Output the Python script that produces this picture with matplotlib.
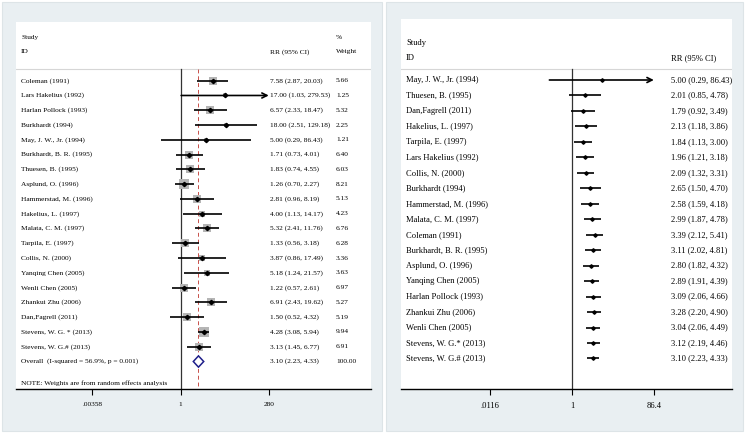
import numpy as np
import matplotlib
matplotlib.use("Agg")
import matplotlib.pyplot as plt
from matplotlib import transforms
from matplotlib.patches import Rectangle, Polygon

# ---------------- data ----------------
left_studies = ["Coleman (1991)", "Lars Hakelius (1992)", "Harlan Pollock (1993)", "Burkhardt (1994)",
                "May, J. W., Jr. (1994)", "Burkhardt, B. R. (1995)", "Thuesen, B. (1995)", "Asplund, O. (1996)",
                "Hammerstad, M. (1996)", "Hakelius, L. (1997)", "Malata, C. M. (1997)", "Tarpila, E. (1997)",
                "Collis, N. (2000)", "Yanqing Chen (2005)", "Wenli Chen (2005)", "Zhankui Zhu (2006)",
                "Dan,Fagrell (2011)", "Stevens, W. G. * (2013)", "Stevens, W. G.# (2013)"]
left_rr = [7.58, 17.00, 6.57, 18.00, 5.00, 1.71, 1.83, 1.26, 2.81, 4.00, 5.32, 1.33, 3.87, 5.18, 1.22, 6.91, 1.50, 4.28, 3.13]
left_lo = [2.87, 1.03, 2.33, 2.51, 0.29, 0.73, 0.74, 0.70, 0.96, 1.13, 2.41, 0.56, 0.86, 1.24, 0.57, 2.43, 0.52, 3.08, 1.45]
left_hi = [20.03, 279.53, 18.47, 129.18, 86.43, 4.01, 4.55, 2.27, 8.19, 14.17, 11.76, 3.18, 17.49, 21.57, 2.61, 19.62, 4.32, 5.94, 6.77]
left_weight = [5.66, 1.25, 5.32, 2.25, 1.21, 6.40, 6.03, 8.21, 5.13, 4.23, 6.76, 6.28, 3.36, 3.63, 6.97, 5.27, 5.19, 9.94, 6.91]
overall_label = "Overall  (I-squared = 56.9%, p = 0.001)"
overall_rr, overall_lo, overall_hi, overall_weight = 3.10, 2.23, 4.33, 100.00
left_ticks = [0.00358, 1, 280]
left_ticklabels = [".00358", "1", "280"]

right_studies = ["May, J. W., Jr. (1994)", "Thuesen, B. (1995)", "Dan,Fagrell (2011)", "Hakelius, L. (1997)",
                 "Tarpila, E. (1997)", "Lars Hakelius (1992)", "Collis, N. (2000)", "Burkhardt (1994)",
                 "Hammerstad, M. (1996)", "Malata, C. M. (1997)", "Coleman (1991)", "Burkhardt, B. R. (1995)",
                 "Asplund, O. (1996)", "Yanqing Chen (2005)", "Harlan Pollock (1993)", "Zhankui Zhu (2006)",
                 "Wenli Chen (2005)", "Stevens, W. G.* (2013)", "Stevens, W. G.# (2013)"]
right_rr = [5.00, 2.01, 1.79, 2.13, 1.84, 1.96, 2.09, 2.65, 2.58, 2.99, 3.39, 3.11, 2.80, 2.89, 3.09, 3.28, 3.04, 3.12, 3.10]
right_lo = [0.29, 0.85, 0.92, 1.18, 1.13, 1.21, 1.32, 1.50, 1.59, 1.87, 2.12, 2.02, 1.82, 1.91, 2.06, 2.20, 2.06, 2.19, 2.23]
right_hi = [86.43, 4.78, 3.49, 3.86, 3.00, 3.18, 3.31, 4.70, 4.18, 4.78, 5.41, 4.81, 4.32, 4.39, 4.66, 4.90, 4.49, 4.46, 4.33]
right_ticks = [0.0116, 1, 86.4]
right_ticklabels = [".0116", "1", "86.4"]

# ---------------- layout ----------------
W, H = 745, 434
fig = plt.figure(figsize=(W / 100, H / 100), dpi=100)
fig.patch.set_facecolor("white")
SERIF = ["Liberation Serif", "DejaVu Serif"]
PANEL = "#e9eff2"

def fig_rect(x0, y0, x1, y1, **kw):
    fig.patches.append(Rectangle((x0 / W, 1 - y1 / H), (x1 - x0) / W, (y1 - y0) / H,
                                 transform=fig.transFigure, figure=fig, **kw))

fig_rect(2, 2, 382, 431, facecolor=PANEL, edgecolor="#dde4e7", lw=0.8, zorder=-5)
fig_rect(386, 2, 743, 431, facecolor=PANEL, edgecolor="#dde4e7", lw=0.8, zorder=-5)


def make_axes(px0, py0, px1, py1, center_px, px_per_ln, row0_px, row_step):
    ax = fig.add_axes([px0 / W, 1 - py1 / H, (px1 - px0) / W, (py1 - py0) / H])
    ax.set_zorder(1)
    ax.set_facecolor("white")
    ax.set_xscale("log")
    ax.set_xlim(np.exp((px0 - center_px) / px_per_ln), np.exp((px1 - center_px) / px_per_ln))
    ax.set_ylim((py1 - row0_px) / row_step, (py0 - row0_px) / row_step)
    for s in ["top", "left", "right"]:
        ax.spines[s].set_visible(False)
    ax.spines["bottom"].set_linewidth(1.0)
    ax.set_yticks([])
    ax.minorticks_off()
    tr = transforms.blended_transform_factory(ax.transAxes, ax.transData)
    fx = lambda px: (px - px0) / (px1 - px0)
    ry = lambda py: (py - row0_px) / row_step
    return ax, tr, fx, ry


def draw_ci(ax, lo, hi, y, xmax_tick, lw=1.2):
    if hi >= 0.995 * xmax_tick:
        ax.annotate("", xy=(xmax_tick * 0.97, y), xytext=(lo, y),
                    arrowprops=dict(arrowstyle="->", lw=lw, color="black",
                                    shrinkA=0, shrinkB=0, mutation_scale=9))
    else:
        ax.plot([lo, hi], [y, y], color="black", lw=lw, solid_capstyle="butt", zorder=3)


# ---------------- left panel ----------------
axL, trL, fxL, ryL = make_axes(16, 22, 371, 389, 180.7, 15.71, 80.7, 14.78)
fsL = 5.3
n = len(left_studies)
ylo, yhi = axL.get_ylim()
hdr = ryL(69)
axL.axhline(hdr, color="#d6d6d6", lw=0.8)
axL.plot([1, 1], [hdr, ylo], color="#333333", lw=0.9, zorder=2)
axL.plot([overall_rr, overall_rr], [hdr, ylo], color="#c8504a", lw=0.7, ls=(0, (4, 3)), zorder=2)

axL.text(fxL(21), ryL(37.7), "Study", transform=trL, fontsize=fsL, family=SERIF, va="center")
axL.text(fxL(21), ryL(51.7), "ID", transform=trL, fontsize=fsL, family=SERIF, va="center")
axL.text(fxL(270), ryL(51.7), "RR (95% CI)", transform=trL, fontsize=fsL, family=SERIF, va="center")
axL.text(fxL(336), ryL(37.7), "%", transform=trL, fontsize=fsL, family=SERIF, va="center")
axL.text(fxL(336), ryL(51.7), "Weight", transform=trL, fontsize=fsL, family=SERIF, va="center")

for i in range(n):
    side_pt = 3.3 * np.sqrt(left_weight[i]) * 0.72
    axL.scatter([left_rr[i]], [i], marker="s", s=side_pt ** 2, color="#b5b5b5", lw=0, zorder=2)
    draw_ci(axL, left_lo[i], left_hi[i], i, left_ticks[-1])
    axL.plot([left_rr[i]], [i], marker="D", ms=2.2, color="black", zorder=4)
    axL.text(fxL(21), i, left_studies[i], transform=trL, fontsize=fsL, family=SERIF, va="center")
    axL.text(fxL(270), i, f"{left_rr[i]:.2f} ({left_lo[i]:.2f}, {left_hi[i]:.2f})", transform=trL,
             fontsize=fsL, family=SERIF, va="center")
    axL.text(fxL(336), i, f"{left_weight[i]:.2f}", transform=trL, fontsize=fsL, family=SERIF, va="center")

yo = n
dh = 0.38
axL.add_patch(Polygon([[overall_lo, yo], [overall_rr, yo - dh], [overall_hi, yo], [overall_rr, yo + dh]],
                      closed=True, facecolor="white", edgecolor="#1f1f8a", lw=1.1, zorder=5))
axL.text(fxL(21), yo, overall_label, transform=trL, fontsize=fsL, family=SERIF, va="center")
axL.text(fxL(270), yo, f"{overall_rr:.2f} ({overall_lo:.2f}, {overall_hi:.2f})", transform=trL,
         fontsize=fsL, family=SERIF, va="center")
axL.text(fxL(336), yo, f"{overall_weight:.2f}", transform=trL, fontsize=fsL, family=SERIF, va="center")
axL.text(fxL(21), ryL(382.7), "NOTE: Weights are from random effects analysis", transform=trL,
         fontsize=fsL, family=SERIF, va="center")

axL.set_xticks(left_ticks)
axL.set_xticklabels(left_ticklabels, family=SERIF, fontsize=fsL)
axL.tick_params(axis="x", direction="out", length=4, width=0.8, pad=5, which="major")

# ---------------- right panel ----------------
axR, trR, fxR, ryR = make_axes(401, 19, 731.7, 389, 572.2, 18.43, 80.0, 15.47)
fsR = 6.1
ylo, yhi = axR.get_ylim()
hdr = ryR(69.3)
axR.axhline(hdr, color="#d6d6d6", lw=0.8)
axR.plot([1, 1], [hdr, ylo], color="#333333", lw=0.9, zorder=2)

axR.text(fxR(406), ryR(42.7), "Study", transform=trR, fontsize=fsR, family=SERIF, va="center")
axR.text(fxR(406), ryR(58), "ID", transform=trR, fontsize=fsR, family=SERIF, va="center")
axR.text(fxR(671), ryR(58), "RR (95% CI)", transform=trR, fontsize=fsR, family=SERIF, va="center")

for i in range(len(right_studies)):
    draw_ci(axR, right_lo[i], right_hi[i], i, right_ticks[-1])
    axR.plot([right_rr[i]], [i], marker="D", ms=1.8, color="black", zorder=4)
    axR.text(fxR(406), i, right_studies[i], transform=trR, fontsize=fsR, family=SERIF, va="center")
    axR.text(fxR(671), i, f"{right_rr[i]:.2f} ({right_lo[i]:.2f}, {right_hi[i]:.2f})", transform=trR,
             fontsize=fsR, family=SERIF, va="center")

axR.set_xticks(right_ticks)
axR.set_xticklabels(right_ticklabels, family=SERIF, fontsize=fsR)
axR.tick_params(axis="x", direction="out", length=4, width=0.8, pad=5, which="major")

fig.savefig("out.png", dpi=100, facecolor="white")
